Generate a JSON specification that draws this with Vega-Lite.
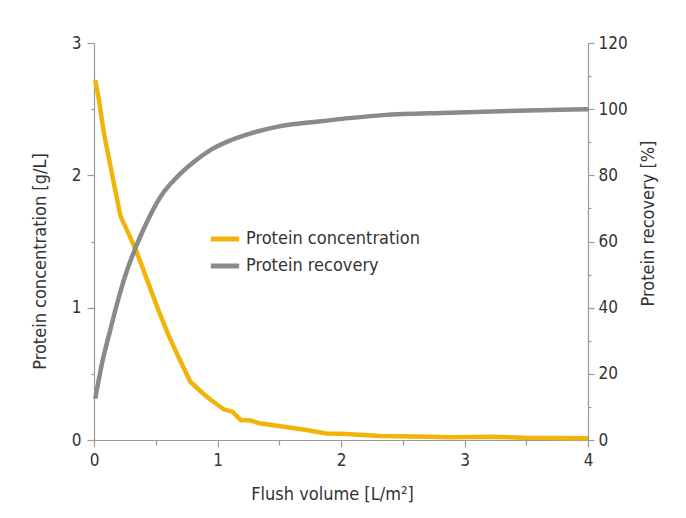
{
  "$schema": "https://vega.github.io/schema/vega-lite/v6.json",
  "autosize": {"type": "none"},
  "padding": {"left": 94, "top": 43, "right": 98, "bottom": 78},
  "width": 494,
  "height": 397,
  "background": "white",
  "config": {
    "view": {"stroke": null},
    "font": "'DejaVu Sans Condensed', Roboto, sans-serif",
    "axis": {
      "labelFont": "'DejaVu Sans Condensed', Roboto, sans-serif",
      "titleFont": "'DejaVu Sans Condensed', Roboto, sans-serif",
      "labelFontSize": 17,
      "titleFontSize": 18,
      "titleFontWeight": "normal",
      "labelColor": "#333333",
      "titleColor": "#333333",
      "domainColor": "#9a9a9a",
      "tickColor": "#9a9a9a",
      "domainWidth": 1.2,
      "tickWidth": 1.2,
      "grid": false
    },
    "legend": {
      "labelFont": "'DejaVu Sans Condensed', Roboto, sans-serif",
      "labelFontSize": 18,
      "labelColor": "#333333",
      "labelLimit": 400
    }
  },
  "data": {
    "values": [
      {"series": "Protein concentration", "x": 0.01, "y": 2.72},
      {"series": "Protein concentration", "x": 0.04, "y": 2.57},
      {"series": "Protein concentration", "x": 0.08, "y": 2.32},
      {"series": "Protein concentration", "x": 0.15, "y": 1.99},
      {"series": "Protein concentration", "x": 0.215, "y": 1.69},
      {"series": "Protein concentration", "x": 0.28, "y": 1.56},
      {"series": "Protein concentration", "x": 0.35, "y": 1.41},
      {"series": "Protein concentration", "x": 0.43, "y": 1.21},
      {"series": "Protein concentration", "x": 0.53, "y": 0.96},
      {"series": "Protein concentration", "x": 0.6, "y": 0.8},
      {"series": "Protein concentration", "x": 0.67, "y": 0.655},
      {"series": "Protein concentration", "x": 0.78, "y": 0.44},
      {"series": "Protein concentration", "x": 0.885, "y": 0.35},
      {"series": "Protein concentration", "x": 0.95, "y": 0.3},
      {"series": "Protein concentration", "x": 1.05, "y": 0.232},
      {"series": "Protein concentration", "x": 1.12, "y": 0.214},
      {"series": "Protein concentration", "x": 1.19, "y": 0.15},
      {"series": "Protein concentration", "x": 1.26, "y": 0.15},
      {"series": "Protein concentration", "x": 1.34, "y": 0.126},
      {"series": "Protein concentration", "x": 1.54, "y": 0.1},
      {"series": "Protein concentration", "x": 1.72, "y": 0.075},
      {"series": "Protein concentration", "x": 1.88, "y": 0.05},
      {"series": "Protein concentration", "x": 2.0, "y": 0.047},
      {"series": "Protein concentration", "x": 2.18, "y": 0.038},
      {"series": "Protein concentration", "x": 2.32, "y": 0.03},
      {"series": "Protein concentration", "x": 2.71, "y": 0.025},
      {"series": "Protein concentration", "x": 2.89, "y": 0.02},
      {"series": "Protein concentration", "x": 3.21, "y": 0.025},
      {"series": "Protein concentration", "x": 3.49, "y": 0.017},
      {"series": "Protein concentration", "x": 4.0, "y": 0.013},
      {"series": "Protein recovery", "x": 0.01, "y": 12.5},
      {"series": "Protein recovery", "x": 0.07, "y": 24},
      {"series": "Protein recovery", "x": 0.13, "y": 33},
      {"series": "Protein recovery", "x": 0.2, "y": 43},
      {"series": "Protein recovery", "x": 0.265, "y": 51},
      {"series": "Protein recovery", "x": 0.33, "y": 57.5},
      {"series": "Protein recovery", "x": 0.405, "y": 64},
      {"series": "Protein recovery", "x": 0.54, "y": 73.6},
      {"series": "Protein recovery", "x": 0.675, "y": 79.6},
      {"series": "Protein recovery", "x": 0.81, "y": 84.1},
      {"series": "Protein recovery", "x": 0.945, "y": 87.7},
      {"series": "Protein recovery", "x": 1.08, "y": 90.2},
      {"series": "Protein recovery", "x": 1.27, "y": 92.7},
      {"series": "Protein recovery", "x": 1.5, "y": 94.8},
      {"series": "Protein recovery", "x": 1.8, "y": 96.2},
      {"series": "Protein recovery", "x": 2.34, "y": 98.2},
      {"series": "Protein recovery", "x": 2.88, "y": 98.9},
      {"series": "Protein recovery", "x": 3.42, "y": 99.5},
      {"series": "Protein recovery", "x": 4.0, "y": 100}
    ]
  },
  "layer": [
    {
      "transform": [{"filter": "datum.series === 'Protein concentration'"}],
      "mark": {"type": "line", "strokeWidth": 4.5, "interpolate": "linear"},
      "encoding": {
        "x": {
          "field": "x", "type": "quantitative",
          "scale": {"domain": [0, 4], "nice": false},
          "axis": {
            "title": "Flush volume [L/m²]",
            "values": [0, 0.5, 1, 1.5, 2, 2.5, 3, 3.5, 4],
            "format": "~g",
            "labelExpr": "datum.value % 1 === 0 ? datum.label : ''",
            "tickSize": {"condition": {"test": "datum.value % 1 === 0", "value": 7}, "value": 5},
            "labelPadding": 5,
            "titlePadding": 17,
            "titleX": 238,
            "labelFlush": false
          }
        },
        "y": {
          "field": "y", "type": "quantitative",
          "scale": {"domain": [0, 3], "nice": false},
          "axis": {
            "title": "Protein concentration [g/L]",
            "orient": "left",
            "values": [0, 0.5, 1, 1.5, 2, 2.5, 3],
            "format": "~g",
            "labelExpr": "datum.value % 1 === 0 ? datum.label : ''",
            "tickSize": {"condition": {"test": "datum.value % 1 === 0", "value": 7}, "value": 3},
            "labelPadding": 6,
            "titlePadding": 22,
            "titleY": 218
          }
        },
        "color": {
          "field": "series", "type": "nominal",
          "scale": {"domain": ["Protein concentration", "Protein recovery"], "range": ["#F0B40A", "#8a8a8a"]},
          "legend": {
            "title": null,
            "orient": "none",
            "legendX": 114,
            "legendY": 179,
            "symbolType": "stroke",
            "symbolSize": 800,
            "symbolStrokeWidth": 5,
            "rowPadding": 0,
            "labelOffset": 4
          }
        }
      }
    },
    {
      "transform": [{"filter": "datum.series === 'Protein recovery'"}],
      "mark": {"type": "line", "strokeWidth": 4.5, "interpolate": "monotone"},
      "encoding": {
        "x": {"field": "x", "type": "quantitative"},
        "y": {
          "field": "y", "type": "quantitative",
          "scale": {"domain": [0, 120], "nice": false},
          "axis": {
            "title": "Protein recovery [%]",
            "orient": "right",
            "titleAngle": 270,
            "values": [0, 10, 20, 30, 40, 50, 60, 70, 80, 90, 100, 110, 120],
            "labelExpr": "datum.value % 20 === 0 ? datum.label : ''",
            "tickSize": {"condition": {"test": "datum.value % 20 === 0", "value": 6}, "value": 3},
            "labelPadding": 4,
            "titlePadding": 30,
            "titleY": 180
          }
        },
        "color": {"field": "series", "type": "nominal"}
      }
    }
  ],
  "resolve": {"scale": {"y": "independent"}}
}
